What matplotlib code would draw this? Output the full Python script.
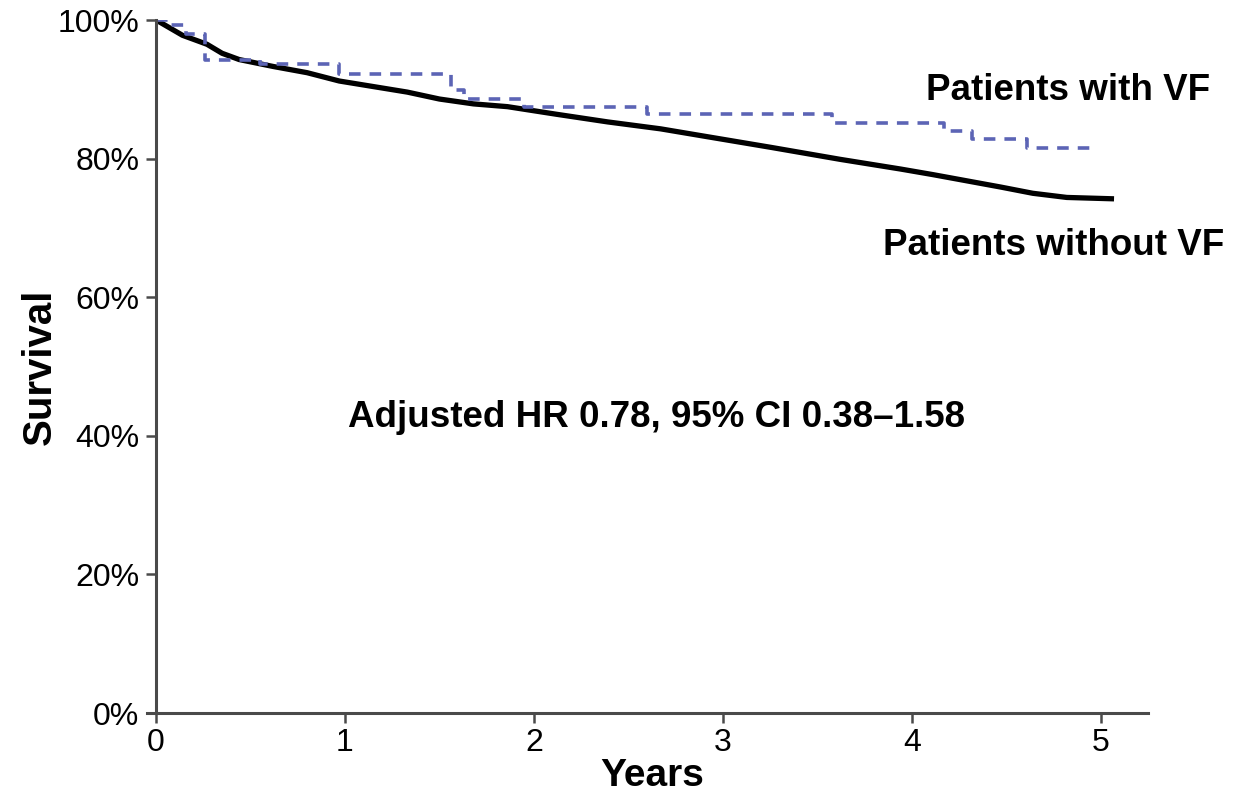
import matplotlib
matplotlib.use("Agg")
import matplotlib.pyplot as plt
from matplotlib.ticker import FuncFormatter

# Kaplan-Meier survival estimates (years, survival fraction)
years_no_vf = [0.00, 0.02, 0.14, 0.27, 0.35, 0.44, 0.62, 0.80, 0.97, 1.15, 1.33,
               1.50, 1.68, 1.86, 2.12, 2.39, 2.67, 2.91, 3.26, 3.62, 3.94, 4.11,
               4.29, 4.47, 4.64, 4.82, 5.07]
surv_no_vf = [1.000, 0.997, 0.978, 0.965, 0.952, 0.943, 0.933, 0.924, 0.912,
              0.904, 0.896, 0.886, 0.879, 0.875, 0.864, 0.853, 0.843, 0.832,
              0.816, 0.799, 0.785, 0.777, 0.768, 0.759, 0.750, 0.744, 0.742]

years_vf = [0.00, 0.08, 0.16, 0.26, 0.55, 0.97, 1.56, 1.63, 1.95, 2.60, 3.58,
            4.17, 4.32, 4.61, 4.96]
surv_vf = [1.000, 0.993, 0.980, 0.942, 0.936, 0.922, 0.899, 0.886, 0.875,
           0.865, 0.852, 0.840, 0.829, 0.815, 0.815]

x_ticks = [0, 1, 2, 3, 4, 5]
y_ticks = [0.0, 0.2, 0.4, 0.6, 0.8, 1.0]

label_with = "Patients with VF"
label_without = "Patients without VF"
hr_text = "Adjusted HR 0.78, 95% CI 0.38\u20131.58"

plt.rcParams['font.family'] = ['Liberation Sans', 'DejaVu Sans']

fig = plt.figure(figsize=(12.58, 7.95), dpi=100)
ax = fig.add_axes([0.124, 0.1031, 0.7886, 0.8717])

axis_col = '#4a4a4a'

ax.plot(years_no_vf, surv_no_vf, color='black', lw=3.8,
        solid_capstyle='butt', solid_joinstyle='round', zorder=3)
ax.plot(years_vf, surv_vf, color='#5c64b5', lw=2.6, drawstyle='steps-post',
        dashes=(3.2, 2.5), zorder=4)

ax.set_xlim(0, 5.25)
ax.set_ylim(0, 1.0)
ax.set_xticks(x_ticks)
ax.set_yticks(y_ticks)
ax.yaxis.set_major_formatter(FuncFormatter(lambda v, p: f"{v*100:.0f}%"))

for side in ('top', 'right'):
    ax.spines[side].set_visible(False)
for side in ('left', 'bottom'):
    ax.spines[side].set_linewidth(2.2)
    ax.spines[side].set_color(axis_col)
    ax.spines[side].set_zorder(5)
ax.spines['bottom'].set_bounds(-0.045, 5.25)
ax.spines['left'].set_bounds(0, 1.0)

ax.tick_params(axis='both', direction='out', length=7, width=1.8,
               color=axis_col, labelsize=23, labelcolor='black')
ax.tick_params(axis='y', pad=5)
ax.tick_params(axis='x', pad=4)

ax.set_xlabel("Years", fontsize=28, fontweight='bold', labelpad=0)
ax.set_ylabel("Survival", fontsize=29, fontweight='bold', labelpad=-1)

ax.text(4.825, 0.899, label_with, fontsize=26.5, fontweight='bold',
        ha='center', va='center')
ax.text(4.75, 0.675, label_without, fontsize=26.5, fontweight='bold',
        ha='center', va='center')
ax.text(2.648, 0.426, hr_text, fontsize=26.5, fontweight='bold',
        ha='center', va='center')

fig.savefig("out.png", dpi=100, facecolor='white')
